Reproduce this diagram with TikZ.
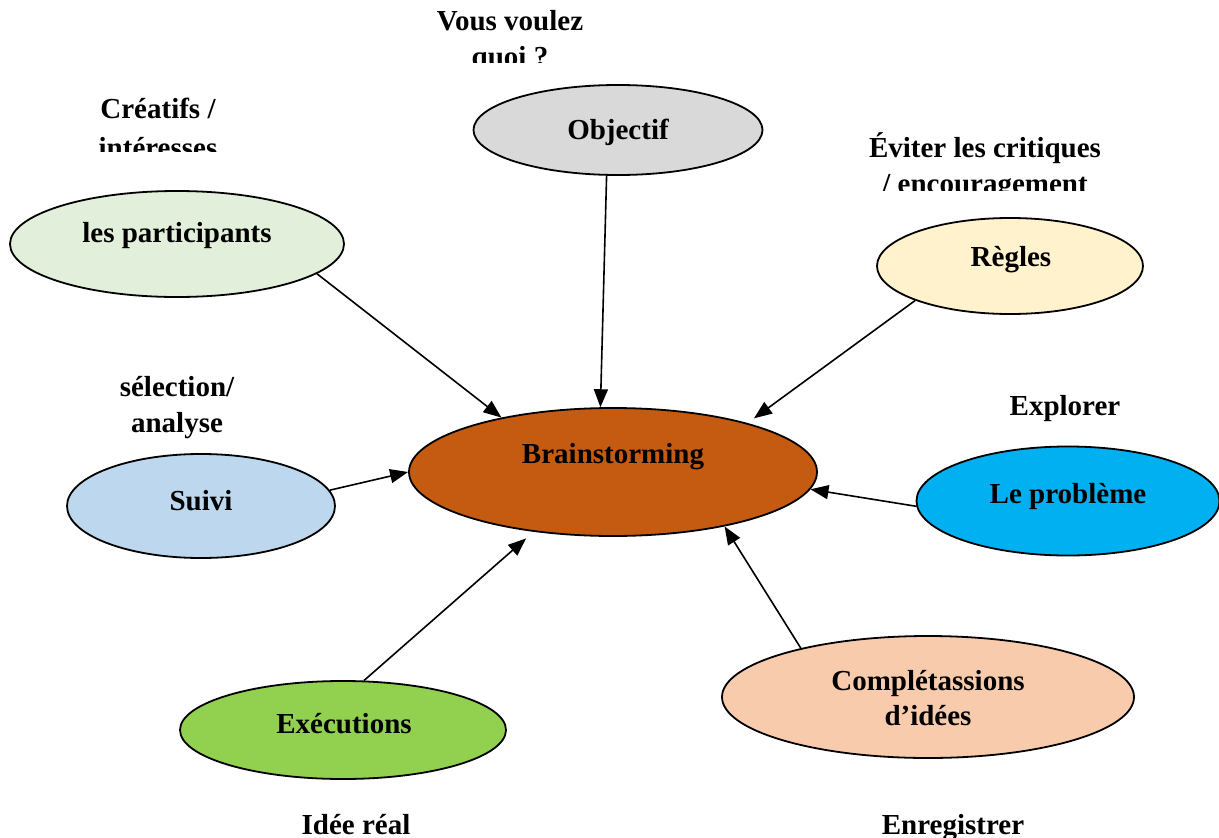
\documentclass[tikz,border=0pt]{standalone}
\usepackage{fontspec}
\setmainfont{Liberation Serif}
\usetikzlibrary{shapes.geometric,arrows.meta}

\definecolor{cObj}{HTML}{D9D9D9}
\definecolor{cPart}{HTML}{E2EFDA}
\definecolor{cRegl}{HTML}{FFF2CC}
\definecolor{cBrain}{HTML}{C55A11}
\definecolor{cSuivi}{HTML}{BDD7EE}
\definecolor{cProb}{HTML}{00B0F0}
\definecolor{cExec}{HTML}{92D050}
\definecolor{cComp}{HTML}{F8CBAD}

\begin{document}
\begin{tikzpicture}[x=1pt,y=-1pt,
  bubble/.style={ellipse,draw=black,line width=1.8pt,inner sep=0pt},
  txt/.style={font=\fontsize{29}{35}\selectfont\bfseries,anchor=base,inner sep=0pt},
  link/.style={line width=1.6pt,-{Triangle[length=18pt,width=14pt]}}]
\useasboundingbox (0,0) rectangle (1219,838);

% ellipses
\node[bubble,fill=cObj,  minimum width=289pt,minimum height=90pt]  (obj)   at (618,130) {};
\node[bubble,fill=cPart, minimum width=334pt,minimum height=106pt] (part)  at (177,244) {};
\node[bubble,fill=cRegl, minimum width=266pt,minimum height=96pt]  (regl)  at (1010,266) {};
\node[bubble,fill=cBrain,minimum width=408pt,minimum height=128pt] (brain) at (613,472) {};
\node[bubble,fill=cSuivi,minimum width=268pt,minimum height=104pt] (suivi) at (201,506) {};
\node[bubble,fill=cProb, minimum width=303pt,minimum height=109pt] (prob)  at (1068,501) {};
\node[bubble,fill=cExec, minimum width=326pt,minimum height=98pt]  (exec)  at (343,730) {};
\node[bubble,fill=cComp, minimum width=412pt,minimum height=122pt] (comp)  at (928,697) {};

% texts inside the ellipses
\node[txt] (obj-t)   at (618,139) {Objectif};
\node[txt] (part-t)  at (177,242) {les participants};
\node[txt] (regl-t)  at (1011,266) {Règles};
\node[txt] (brain-t) at (613,463) {Brainstorming};
\node[txt] (suivi-t) at (201,510) {Suivi};
\node[txt] (prob-t)  at (1068,503) {Le problème};
\node[txt] (exec-t)  at (344,733) {Exécutions};
\node[txt] (comp-t1) at (928,690) {Complétassions};
\node[txt] (comp-t2) at (928,725) {d’idées};

% connectors
\draw[link] (part.-12) -- (brain.154);
\draw[link] (obj.-104) -- (brain.101);
\draw[link,shorten >=8pt] (regl.200) -- (brain.20);
\draw[link] (suivi.7.5) -- (brain.180);
\draw[link] (prob.182) -- (brain.-5);
\draw[link,shorten >=10pt] (exec.67) -- (brain.217);
\draw[link] (comp.159) -- (brain.-26);

% captions cut off by their text boxes
\begin{scope}
  \clip (380,0) rectangle (640,62);
  \node[txt] (q1) at (510,30) {Vous voulez};
  \node[txt] (q2) at (510,66) {quoi ?};
\end{scope}
\begin{scope}
  \clip (60,90) rectangle (260,151);
  \node[txt] (c1) at (158,118) {Créatifs /};
  \node[txt] (c2) at (158,157) {intéresses};
\end{scope}
\begin{scope}
  \clip (840,130) rectangle (1130,190);
  \node[txt] (e1) at (985,157) {Éviter les critiques};
  \node[txt] (e2) at (985,193) {/ encouragement};
\end{scope}

% free captions
\node[txt] (s1) at (177,396) {sélection/};
\node[txt] (s2) at (177,432) {analyse};
\node[txt] (ex) at (1065,415) {Explorer};
\node[txt] (id) at (356,834) {Idée réal};
\node[txt] (en) at (953,834) {Enregistrer};
\end{tikzpicture}
\end{document}
